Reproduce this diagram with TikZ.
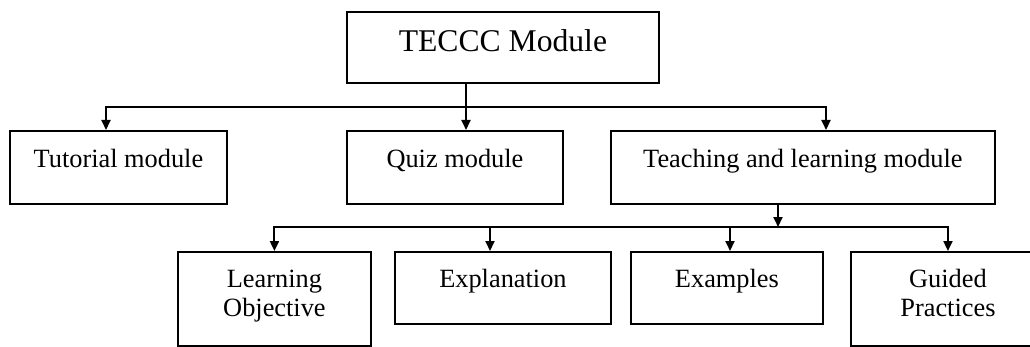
\documentclass[tikz,border=0pt]{standalone}
\usepackage{fontspec}
\setmainfont{Liberation Serif}
\usetikzlibrary{arrows.meta}

\tikzset{
  box/.style={draw, line width=1.1pt, inner sep=0pt, anchor=north west, align=center,
    font=\fontsize{15}{16.7}\selectfont},
  link/.style={line width=1.1pt, -{Triangle[length=2mm,width=1.8mm]}}
}

\begin{document}
\begin{tikzpicture}[x=0.02cm, y=-0.02cm]
\useasboundingbox (0,0) rectangle (1030,347);
\clip (0,0) rectangle (1030,347);

% top module
\node[box, font=\fontsize{18}{21}\selectfont, minimum width=6.24cm, text height=0.8cm, text depth=0.62cm] at (346,11) (teccc) {TECCC Module};

% second level
\node[box, minimum width=4.34cm, text height=0.73cm, text depth=0.73cm] at (9,130) (tutorial) {Tutorial module};
\node[box, minimum width=4.32cm, text height=0.73cm, text depth=0.73cm] at (346,130) (quiz) {Quiz module};
\node[box, minimum width=7.68cm, text height=0.73cm, text depth=0.73cm] at (610,130) (teaching) {Teaching and learning module};

% third level
\node[box, minimum width=3.86cm, text height=1.3cm, text depth=0.58cm] at (177,251) (objective) {Learning\\Objective};
\node[box, minimum width=4.32cm, text height=0.71cm, text depth=0.73cm] at (394,251) (explanation) {Explanation};
\node[box, minimum width=3.84cm, text height=0.71cm, text depth=0.73cm] at (630,251) (examples) {Examples};
\node[box, minimum width=3.88cm, text height=1.3cm, text depth=0.58cm] at (850,251) (guided) {Guided\\Practices};

% connectors, first bus
\coordinate (busa) at (466,107);
\coordinate (tuta) at (106,107);
\coordinate (teaa) at (826,107);
\draw[link] (teccc.south -| busa) -- (quiz.north -| busa);
\draw[link] (busa) -| (tutorial.north -| tuta);
\draw[link] (busa) -| (teaching.north -| teaa);

% connectors, second bus
\coordinate (busb) at (778,227);
\coordinate (expa) at (490,227);
\coordinate (exaa) at (730,227);
\draw[link] (teaching.south -| busb) -- (busb);
\draw[link] (busb) -| (objective.north);
\draw[link] (busb) -| (explanation.north -| expa);
\draw[link] (busb) -| (examples.north -| exaa);
\draw[link] (busb) -| (guided.north);
\end{tikzpicture}
\end{document}
